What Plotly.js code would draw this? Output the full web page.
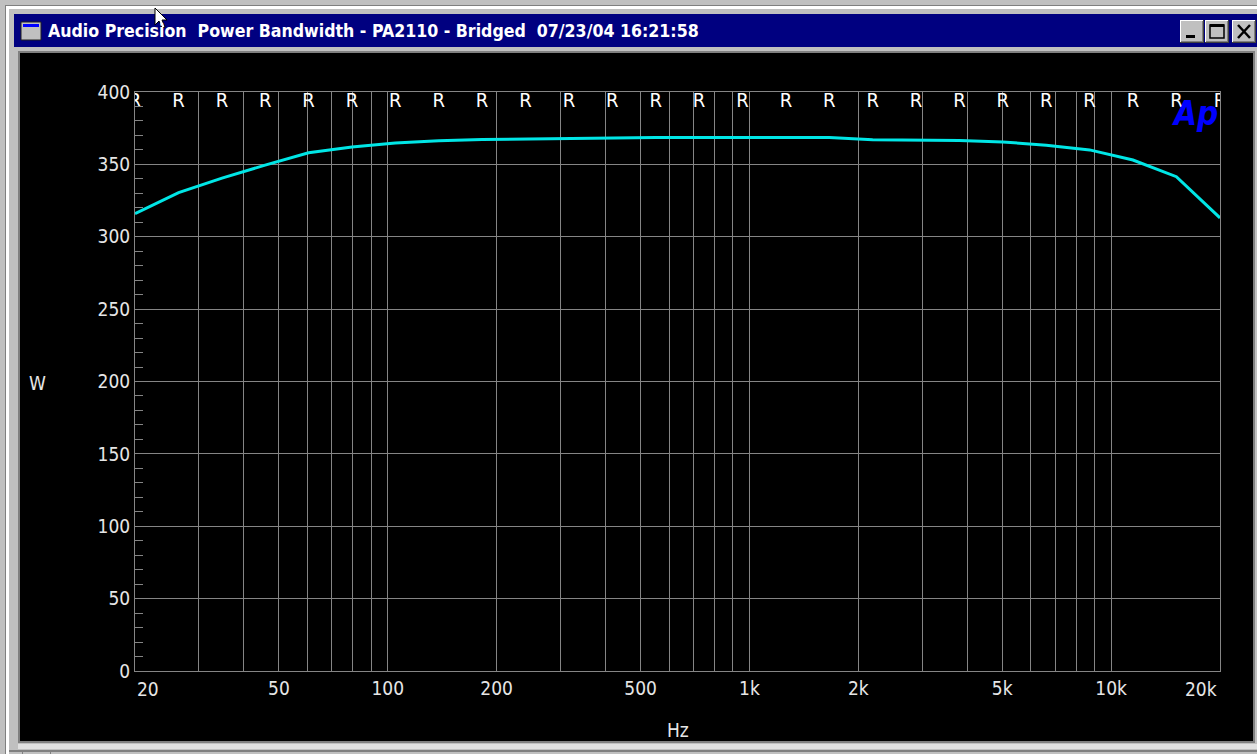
<!DOCTYPE html>
<html>
<head>
<meta charset="utf-8">
<script src="https://cdn.plot.ly/plotly-3.0.1.min.js"></script>
<style>
html,body{margin:0;padding:0;background:#c0c0c0;overflow:hidden;}
#chart{width:1257px;height:754px;}
</style>
</head>
<body>
<div id="chart"></div>
<script>
// ---- data ----
const freqHz = [20, 26.4, 34.8, 45.8, 60.4, 79.6, 104.9, 138.3, 182.3, 240.3, 316.8, 417.6, 550.5,
                725.6, 956.4, 1261, 1662, 2191, 2888, 3807, 5018, 6615, 8720, 11490, 15150, 20000];
const powerW = [316, 330.5, 340.5, 349.5, 358, 362, 364.8, 366.3, 367.2, 367.5, 367.8, 368.5, 368.5,
                368.5, 368.5, 368.5, 368.5, 367, 366.8, 366.5, 365.5, 363.2, 360, 353, 341.5, 313];
const markerLabel = 'R';
const markerLevel = 400;
const xGridVals = [20,30,40,50,60,70,80,90,100,200,300,400,500,600,700,800,900,
                   1000,2000,3000,4000,5000,6000,7000,8000,9000,10000,20000];
const xLabelVals = [50, 100, 200, 500, 1000, 2000, 5000, 10000];
const xLabelText = ['50', '100', '200', '500', '1k', '2k', '5k', '10k'];
const xEdgeLabels = [{v: 20, t: '20'}, {v: 20000, t: '20k'}];
const yRange = [0, 400];
const titleText = 'Audio Precision  Power Bandwidth - PA2110 - Bridged  07/23/04 16:21:58';

// ---- geometry helpers (pixel -> paper) ----
const W = 1257, H = 754, L = 135, R = 1220, T = 92, B = 671;
const PX = x => (x - L) / (R - L);
const PY = y => (B - y) / (B - T);
function rect(x0, y0, x1, y1, fill, line) {
  return {type: 'rect', xref: 'paper', yref: 'paper', layer: 'below',
          x0: PX(x0), x1: PX(x1), y0: PY(y1), y1: PY(y0),
          fillcolor: fill, line: line || {width: 0}};
}
function seg(x0, y0, x1, y1, color, width) {
  return {type: 'line', xref: 'paper', yref: 'paper', layer: 'above',
          x0: PX(x0), x1: PX(x1), y0: PY(y0), y1: PY(y1),
          line: {color: color, width: width}};
}

const tickText = xGridVals.map(v => {
  const i = xLabelVals.indexOf(v);
  return i >= 0 ? xLabelText[i] : '';
});

const fam = 'Liberation Sans Narrow, DejaVu Sans Condensed, Liberation Sans, sans-serif';
const labelFont = {family: fam, size: 19, color: '#e6e6e6'};

const traces = [
  {
    x: freqHz, y: powerW, type: 'scatter', mode: 'lines',
    line: {color: '#00e6e6', width: 3}, hoverinfo: 'skip'
  },
  {
    x: freqHz, y: freqHz.map(() => markerLevel), type: 'scatter', mode: 'text',
    text: freqHz.map(() => markerLabel), textposition: 'bottom center',
    textfont: {family: fam, size: 20, color: '#ffffff'},
    cliponaxis: true, hoverinfo: 'skip'
  }
];

// window chrome
const shapes = [
  rect(5, 5, 1262, 760, '#808080'),
  rect(6, 6, 1262, 760, '#ffffff'),
  rect(9, 9, 1262, 760, '#c0c0c0'),
  rect(14, 14, 1257, 47, '#000080'),
  rect(18, 51, 1255, 743, '#808080'),
  rect(20, 53, 1253, 741, '#000000'),
  rect(18, 744, 1257, 749, '#e0e0e0'),
  rect(9, 750, 1257, 752, '#808080'),
  rect(22, 752, 23, 754, '#808080'),
  rect(50, 752, 51, 754, '#808080'),
  // title icon
  rect(21, 22, 41, 40, '#c0c0c0', {color: '#202020', width: 1}),
  rect(23, 24, 39, 27, '#0000ff'),
];
// title bar buttons
[[1180, 1204], [1205, 1229], [1232, 1256]].forEach(b => {
  shapes.push(rect(b[0], 20, b[1], 43, '#404040'));
  shapes.push(rect(b[0], 20, b[1] - 1, 42, '#ffffff'));
  shapes.push(rect(b[0] + 1, 21, b[1] - 1, 42, '#808080'));
  shapes.push(rect(b[0] + 1, 21, b[1] - 2, 41, '#c0c0c0'));
});
shapes.push(rect(1186, 35, 1195, 38, '#000000'));
shapes.push({type: 'rect', xref: 'paper', yref: 'paper', layer: 'below',
  x0: PX(1210), x1: PX(1224), y0: PY(38), y1: PY(25), line: {color: '#000000', width: 1.5}, fillcolor: 'rgba(0,0,0,0)'});
shapes.push(rect(1210, 24, 1224, 27, '#000000'));
shapes.push(seg(1238, 25, 1250, 38, '#000000', 2.5));
shapes.push(seg(1250, 25, 1238, 38, '#000000', 2.5));
// mouse pointer
const cp = [[0,0],[0,17],[4,13],[7,20],[10,19],[7,12],[12,12]].map(p => [155 + p[0], 8 + p[1]]);
shapes.push({type: 'path', xref: 'paper', yref: 'paper', layer: 'above',
  path: 'M' + cp.map(p => PX(p[0]) + ',' + PY(p[1])).join(' L') + ' Z',
  fillcolor: '#ffffff', line: {color: '#000000', width: 1}});

const annotations = [
  {xref: 'paper', yref: 'paper', x: PX(46), y: PY(31), xanchor: 'left', yanchor: 'middle',
   text: '<b>' + titleText + '</b>', showarrow: false,
   font: {family: fam, size: 17.6, color: '#ffffff'}},
  {xref: 'paper', yref: 'paper', x: PX(37), y: PY(383), xanchor: 'center', yanchor: 'middle',
   text: 'W', showarrow: false, font: labelFont},
  {xref: 'paper', yref: 'paper', x: 0.5, y: PY(730), xanchor: 'center', yanchor: 'middle',
   text: 'Hz', showarrow: false, font: labelFont},
  {xref: 'paper', yref: 'paper', x: PX(1195), y: PY(113), xanchor: 'center', yanchor: 'middle',
   text: '<b><i>Ap</i></b>', showarrow: false,
   font: {family: fam, size: 33, color: '#0000ff'}}
];
xEdgeLabels.forEach((e, i) => {
  annotations.push({xref: 'x', yref: 'paper', x: Math.log10(e.v), y: PY(689),
    xanchor: i === 0 ? 'left' : 'right', yanchor: 'middle', xshift: i === 0 ? 0 : -1,
    text: e.t, showarrow: false, font: labelFont});
});

const layout = {
  width: W, height: H,
  margin: {l: L, r: W - R, t: T, b: H - B, pad: 0},
  paper_bgcolor: '#c0c0c0', plot_bgcolor: '#000000',
  showlegend: false,
  xaxis: {
    type: 'log', range: [Math.log10(20), Math.log10(20000)],
    tickmode: 'array', tickvals: xGridVals, ticktext: tickText,
    showgrid: true, gridcolor: '#858585', gridwidth: 1,
    showline: true, linecolor: '#858585', linewidth: 1, mirror: true,
    ticks: '', tickfont: labelFont, zeroline: false
  },
  yaxis: {
    range: yRange, dtick: 50, tick0: 0,
    showgrid: true, gridcolor: '#858585', gridwidth: 1,
    showline: true, linecolor: '#858585', linewidth: 1, mirror: true,
    ticks: 'inside', ticklen: 8, tickcolor: '#858585',
    minor: {dtick: 10, ticks: 'inside', ticklen: 8, tickcolor: '#858585', showgrid: false},
    tickfont: labelFont, zeroline: false
  },
  shapes: shapes,
  annotations: annotations
};

Plotly.newPlot('chart', traces, layout, {staticPlot: true, displayModeBar: false});
</script>
</body>
</html>
